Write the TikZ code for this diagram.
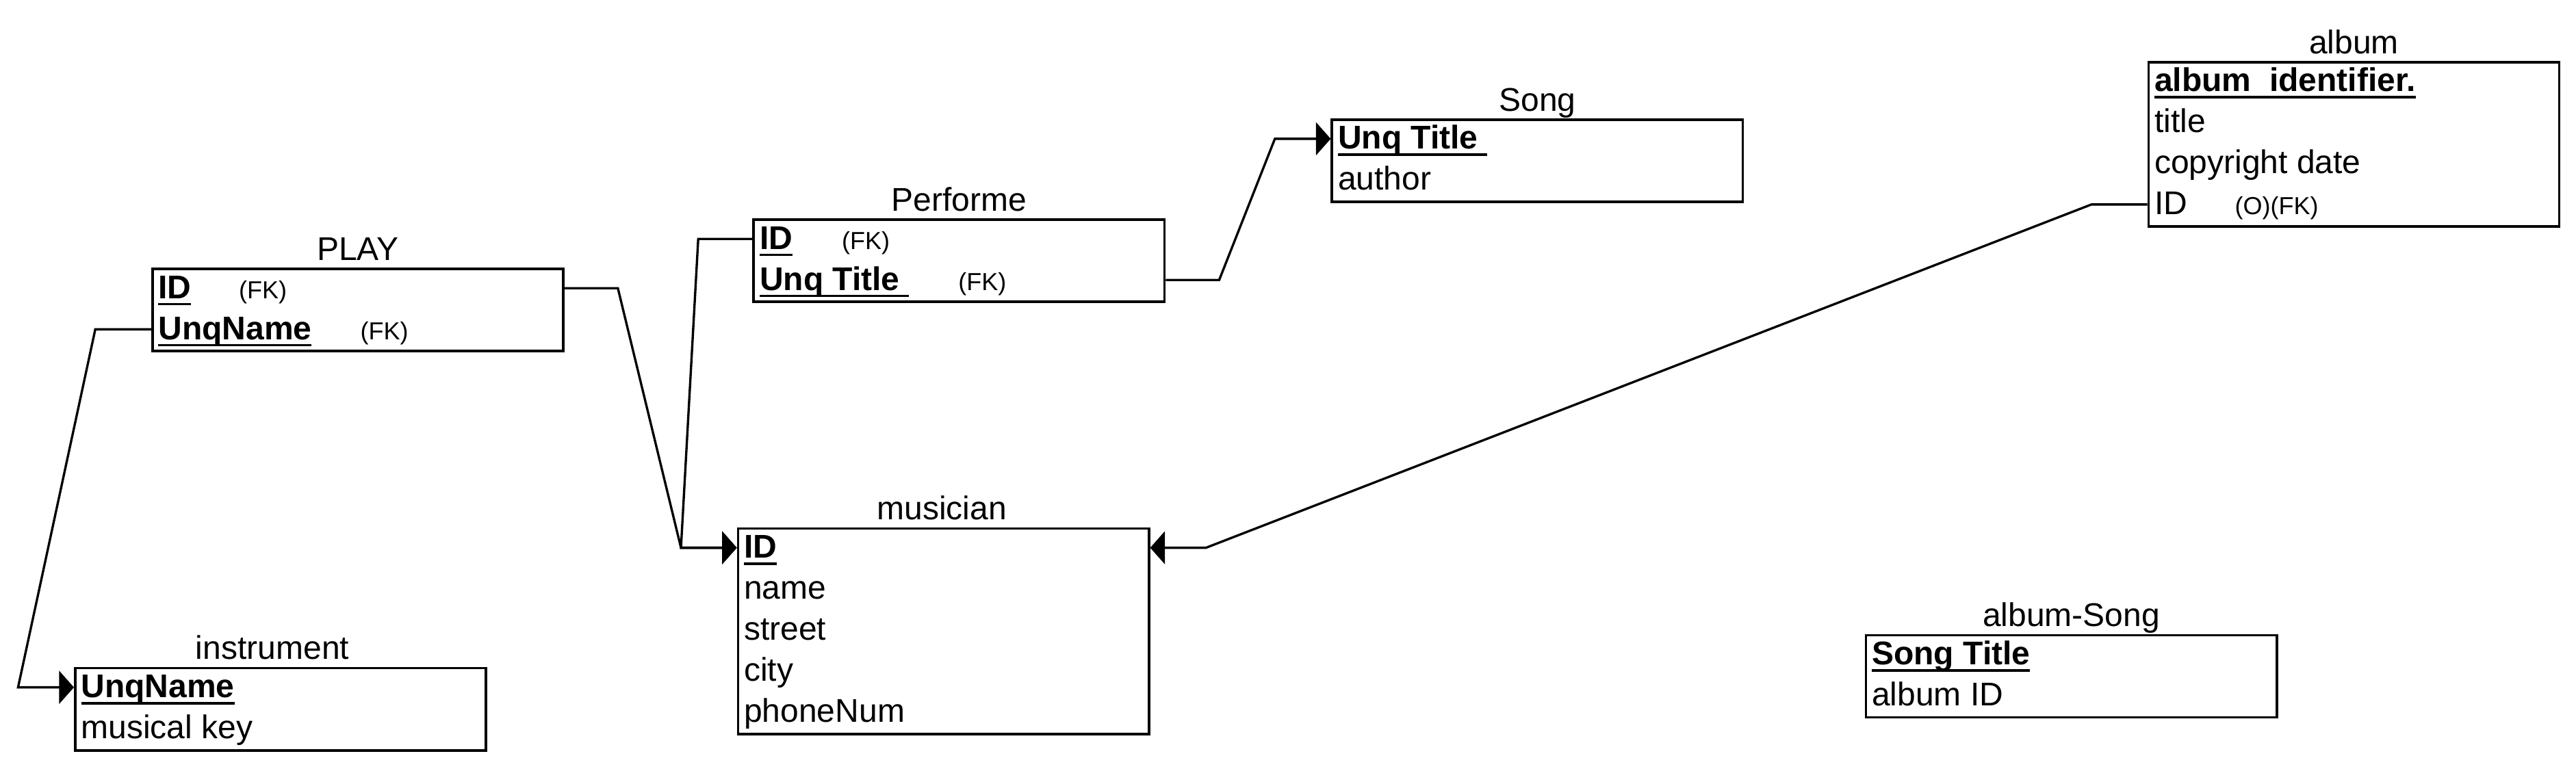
\documentclass[tikz,border=0pt]{standalone}
\usepackage{fontspec}
\setmainfont{Liberation Sans}
\usetikzlibrary{arrows.meta,calc}
\newcommand{\ulkey}[1]{\setbox0=\hbox{#1}\rlap{\rule[-2.1pt]{\wd0}{0.75pt}}\box0}
\begin{document}
\begin{tikzpicture}[x=0.5pt,y=-0.5pt,
  tbl/.style={draw, line width=0.8pt, rectangle, inner sep=0pt, anchor=north west, minimum width=125pt},
  ttl/.style={anchor=base, inner sep=0pt, font=\fontsize{10pt}{12pt}\selectfont},
  row/.style={anchor=west, inner sep=0pt, text height=6.2pt, text depth=0pt, font=\fontsize{10pt}{12pt}\selectfont},
  note/.style={anchor=base west, inner sep=0pt, font=\fontsize{7.5pt}{9pt}\selectfont},
  conn/.style={line width=0.7pt, line join=miter},
  fkarrow/.style={conn, -{Triangle[length=4.5pt,width=10pt]}}
]
\useasboundingbox (0,0) rectangle (1568,468);

% ---------- PLAY ----------
\node[tbl, minimum height=25pt] (play) at (92,163) {};
\node[ttl] (play-t) at ($(play.north)+(0,-4.5)$) {PLAY};
\node[row] (play-1) at ($(play.north west)+(4,12.5)$) {\ulkey{\textbf{ID}}};
\node[row] (play-2) at ($(play.north west)+(4,37.5)$) {\ulkey{\textbf{UnqName}}};
\node[note] (play-1n) at ($(play-1.base west)+(49,0)$) {(FK)};
\node[note] (play-2n) at ($(play-2.base west)+(123,0)$) {(FK)};

% ---------- Performe ----------
\node[tbl, minimum height=25pt] (perf) at (458,133) {};
\node[ttl] (perf-t) at ($(perf.north)+(0,-4.5)$) {Performe};
\node[row] (perf-1) at ($(perf.north west)+(4,12.5)$) {\ulkey{\textbf{ID}}};
\node[row] (perf-2) at ($(perf.north west)+(4,37.5)$) {\ulkey{\textbf{Unq Title}\ }};
\node[note] (perf-1n) at ($(perf-1.base west)+(50,0)$) {(FK)};
\node[note] (perf-2n) at ($(perf-2.base west)+(121,0)$) {(FK)};

% ---------- Song ----------
\node[tbl, minimum height=25pt] (song) at (810,72) {};
\node[ttl] (song-t) at ($(song.north)+(0,-4.5)$) {Song};
\node[row] (song-1) at ($(song.north west)+(4,12.5)$) {\ulkey{\textbf{Unq Title}\ }};
\node[row] (song-2) at ($(song.north west)+(4,37.5)$) {author};

% ---------- album ----------
\node[tbl, minimum height=50pt] (album) at (1307,37) {};
\node[ttl] (album-t) at ($(album.north)+(0,-4.5)$) {album};
\node[row] (album-1) at ($(album.north west)+(4,12.5)$) {\ulkey{\textbf{album\ \ identifier.}}};
\node[row] (album-2) at ($(album.north west)+(4,37.5)$) {title};
\node[row] (album-3) at ($(album.north west)+(4,62.5)$) {copyright date};
\node[row] (album-4) at ($(album.north west)+(4,87.5)$) {ID};
\node[note] (album-4n) at ($(album-4.base west)+(49,0)$) {(O)(FK)};

% ---------- musician ----------
\node[tbl, minimum height=62.5pt] (mus) at (448.5,321) {};
\node[ttl] (mus-t) at ($(mus.north)+(-1,-4.5)$) {musician};
\node[row] (mus-1) at ($(mus.north west)+(4,12.5)$) {\ulkey{\textbf{ID}}};
\node[row] (mus-2) at ($(mus.north west)+(4,37.5)$) {name};
\node[row] (mus-3) at ($(mus.north west)+(4,62.5)$) {street};
\node[row] (mus-4) at ($(mus.north west)+(4,87.5)$) {city};
\node[row] (mus-5) at ($(mus.north west)+(4,112.5)$) {phoneNum};

% ---------- instrument ----------
\node[tbl, minimum height=25pt] (inst) at (45,406) {};
\node[ttl] (inst-t) at ($(inst.north)+(-5,-4.5)$) {instrument};
\node[row] (inst-1) at ($(inst.north west)+(4,12.5)$) {\ulkey{\textbf{UnqName}}};
\node[row] (inst-2) at ($(inst.north west)+(4,37.5)$) {musical key};

% ---------- album-Song ----------
\node[tbl, minimum height=25pt] (als) at (1135,386) {};
\node[ttl] (als-t) at ($(als.north)+(0,-4.5)$) {album-Song};
\node[row] (als-1) at ($(als.north west)+(4,12.5)$) {\ulkey{\textbf{Song Title}}};
\node[row] (als-2) at ($(als.north west)+(4,37.5)$) {album ID};

% ---------- connectors ----------
\draw[fkarrow] (play.west |- play-2) -- ++(-34,0)
   -- ($(inst.west |- inst-1)+(-34,0)$) -- (inst.west |- inst-1);
\draw[fkarrow] (play.east |- play-1) -- ++(32.5,0)
   -- ($(mus.west |- mus-1)+(-34,0)$) -- (mus.west |- mus-1);
\draw[fkarrow] (perf.west |- perf-1) -- ++(-33,0)
   -- ($(mus.west |- mus-1)+(-34,0)$) -- (mus.west |- mus-1);
\draw[fkarrow] (perf.east |- perf-2) -- ++(32.5,0)
   -- ($(song.west |- song-1)+(-34,0)$) -- (song.west |- song-1);
\draw[fkarrow] (album.west |- album-4) -- ++(-34,0)
   -- ($(mus.east |- mus-1)+(34,0)$) -- (mus.east |- mus-1);
\end{tikzpicture}
\end{document}
